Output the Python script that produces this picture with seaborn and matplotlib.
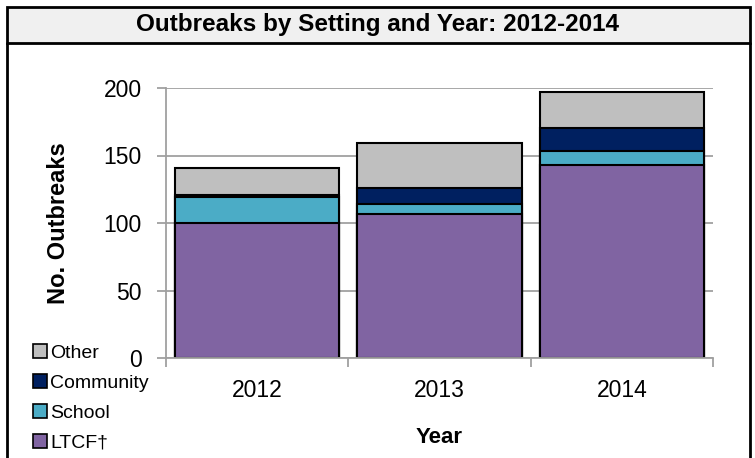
import numpy as np
import pandas as pd
import matplotlib
matplotlib.use("Agg")
import matplotlib.pyplot as plt
from matplotlib.patches import Patch, Rectangle
from matplotlib.lines import Line2D
import seaborn as sns

# data
years = ["2012", "2013", "2014"]
ltcf = [100, 107, 143]
school = [19, 7, 10]
community = [2, 12, 17]
other = [20, 33, 27]

settings = ["LTCF\u2020", "School", "Community", "Other"]
colors = ["#8064A2", "#4BACC6", "#002060", "#BFBFBF"]

sns.set_theme(style="white")
plt.rcParams["font.family"] = ["Liberation Sans", "DejaVu Sans"]
plt.rcParams["text.color"] = "black"
plt.rcParams["axes.labelcolor"] = "black"
plt.rcParams["xtick.labelcolor"] = "black"
plt.rcParams["ytick.labelcolor"] = "black"

df = pd.DataFrame({"Year": years, "LTCF": ltcf, "School": school,
                   "Community": community, "Other": other})
# cumulative tops, drawn from the tallest down so each layer covers the one below
df["c1"] = df["LTCF"]
df["c2"] = df["c1"] + df["School"]
df["c3"] = df["c2"] + df["Community"]
df["c4"] = df["c3"] + df["Other"]

fig = plt.figure(figsize=(7.55, 4.58), dpi=100)
ax = fig.add_axes([166 / 755, 1 - 358 / 458, 547 / 755, 270 / 458])

for col, color in zip(["c4", "c3", "c2", "c1"], colors[::-1]):
    sns.barplot(data=df, x="Year", y=col, color=color, width=0.9,
                edgecolor="black", linewidth=1.5, saturation=1, ax=ax)

ax.set_ylim(0, 200)
ax.set_xlim(-0.5, 2.5)
ax.set_yticks([0, 50, 100, 150, 200])
ax.yaxis.grid(True, color="#A0A0A0", linewidth=1.3)
ax.set_axisbelow(True)
for s in ["top", "right"]:
    ax.spines[s].set_visible(False)
for s in ["left", "bottom"]:
    ax.spines[s].set_color("#A0A0A0")
    ax.spines[s].set_linewidth(1.3)

ax.tick_params(axis="y", which="major", length=6.5, width=1.3, color="#A0A0A0",
               labelsize=16.5, pad=11, left=True, labelcolor="black")
ax.tick_params(axis="x", which="major", length=0, labelsize=16.5, pad=15, labelcolor="black")
ax.set_xticks([-0.5, 0.5, 1.5, 2.5], minor=True)
ax.tick_params(axis="x", which="minor", length=6.5, width=1.3, color="#A0A0A0", bottom=True)

ax.set_xlabel("Year", fontsize=16, fontweight="bold", labelpad=18)
ax.set_ylabel("No. Outbreaks", fontsize=17, fontweight="bold", labelpad=24)

# header box and outer frame
fig.patches.append(Rectangle((7 / 755, 1 - 43 / 458), 743 / 755, 36 / 458,
                             transform=fig.transFigure, facecolor="#F0F0F0",
                             edgecolor="black", linewidth=2))
fig.lines.append(Line2D([7 / 755, 7 / 755], [0, 1 - 43 / 458], transform=fig.transFigure,
                        color="black", linewidth=2))
fig.lines.append(Line2D([750 / 755, 750 / 755], [0, 1 - 43 / 458], transform=fig.transFigure,
                        color="black", linewidth=2))
fig.text(0.5, 1 - 25 / 458, "Outbreaks by Setting and Year: 2012-2014",
         ha="center", va="center", fontsize=17.5, fontweight="bold")

handles = [Patch(facecolor=c, edgecolor="black", linewidth=1.2, label=l)
           for l, c in zip(settings[::-1], colors[::-1])]
fig.legend(handles=handles, loc="upper left", bbox_to_anchor=(33 / 755, 1 - 344 / 458),
           frameon=False, fontsize=14, handlelength=0.72, handleheight=0.72,
           handletextpad=0.15, labelspacing=0.63, borderaxespad=0, borderpad=0)

fig.savefig("out.png", dpi=100)
